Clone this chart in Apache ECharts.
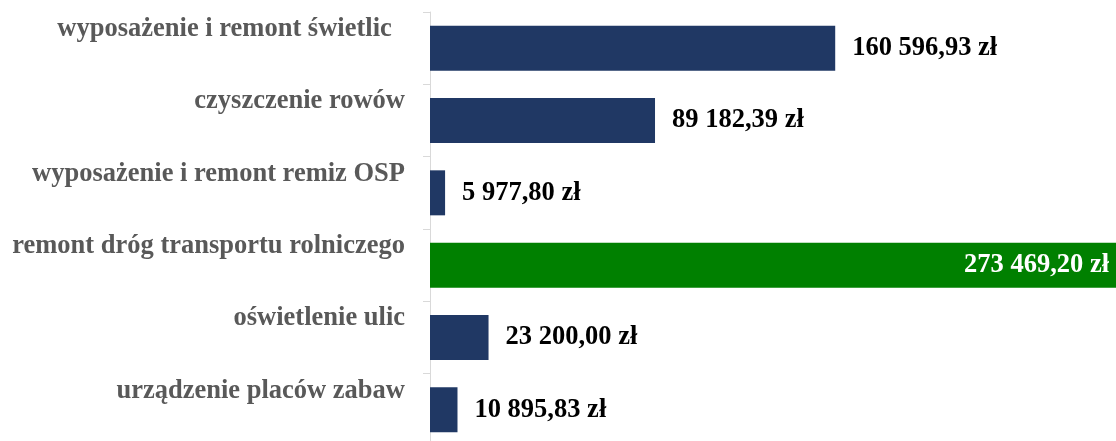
<!DOCTYPE html>
<html>
<head>
<meta charset="utf-8">
<script src="https://cdn.jsdelivr.net/npm/echarts@6/dist/echarts.min.js"></script>
<style>
html,body{margin:0;padding:0;background:#fff;}
#c{width:1116px;height:441px;}
</style>
</head>
<body>
<div id="c"></div>
<script>
const categories = [
  'wyposażenie i remont świetlic  ',
  'czyszczenie rowów',
  'wyposażenie i remont remiz OSP',
  'remont dróg transportu rolniczego',
  'oświetlenie ulic',
  'urządzenie placów zabaw'
];
const values = [160596.93, 89182.39, 5977.80, 273469.20, 23200.00, 10895.83];
const highlightIndex = 3;

const NAVY = '#203864';
const GREEN = '#008000';
const FONT = "'Liberation Serif', 'Times New Roman', serif";

function fmtPL(v) {
  const parts = v.toFixed(2).split('.');
  const intPart = parts[0].replace(/\B(?=(\d{3})+(?!\d))/g, ' ');
  return intPart + ',' + parts[1] + ' zł';
}

const data = values.map((v, i) => {
  const item = { value: v };
  if (i === highlightIndex) {
    item.itemStyle = { color: GREEN };
    item.label = { position: 'insideRight', distance: 11, color: '#ffffff' };
  }
  return item;
});

const chart = echarts.init(document.getElementById('c'), null, { renderer: 'canvas' });
chart.setOption({
  animation: false,
  backgroundColor: '#ffffff',
  grid: { left: 430, right: -4, top: 12, bottom: -5, containLabel: false, outerBoundsMode: 'none' },
  xAxis: {
    type: 'value',
    min: 0,
    max: function (e) { return e.max; },
    show: false,
    splitLine: { show: false }
  },
  yAxis: {
    type: 'category',
    inverse: true,
    data: categories,
    axisLine: { show: true, lineStyle: { color: '#d9d9d9', width: 1 } },
    axisTick: { show: true, length: 7, lineStyle: { color: '#d9d9d9' } },
    axisLabel: {
      interval: 0,
      showMinLabel: true,
      showMaxLabel: true,
      hideOverlap: false,
      margin: 25,
      color: '#595959',
      fontFamily: FONT,
      fontWeight: 'bold',
      fontSize: 26.5,
      lineHeight: 38,
      verticalAlign: 'bottom'
    }
  },
  series: [{
    type: 'bar',
    data: data,
    barWidth: 45,
    itemStyle: { color: NAVY },
    label: {
      show: true,
      position: 'right',
      distance: 17,
      color: '#000000',
      fontFamily: FONT,
      fontWeight: 'bold',
      fontSize: 26.5,
      formatter: function (p) { return fmtPL(p.value); }
    }
  }]
});
</script>
</body>
</html>
